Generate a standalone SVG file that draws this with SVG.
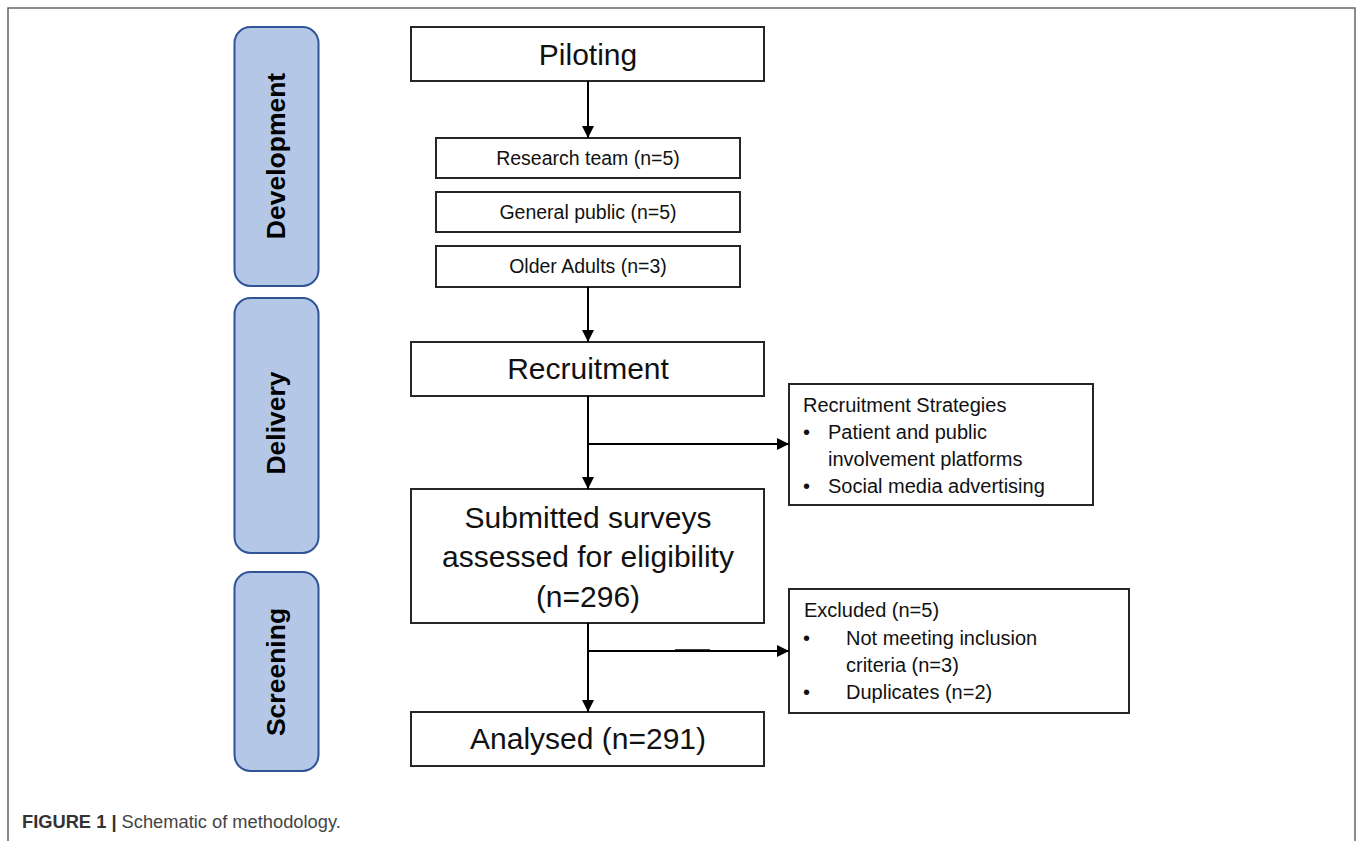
<svg xmlns="http://www.w3.org/2000/svg" width="1358" height="841" viewBox="0 0 1358 841">
<defs>
<style>
.box{fill:#fff;stroke:#262626;stroke-width:2}
.phase{fill:#B4C7E7;stroke:#2F5597;stroke-width:2}
.big{font-family:"Liberation Sans",Arial,sans-serif;font-size:30px;fill:#111;text-anchor:middle}
.mid{font-family:"Liberation Sans",Arial,sans-serif;font-size:19.5px;fill:#111;text-anchor:middle}
.sm{font-family:"Liberation Sans",Arial,sans-serif;font-size:20px;fill:#111}
.ph{font-family:"Liberation Sans",Arial,sans-serif;font-size:26.5px;font-weight:bold;fill:#000;text-anchor:middle}
.ln{stroke:#000;stroke-width:2;fill:none}
.cap{font-family:"Liberation Sans",Arial,sans-serif;font-size:18.3px}
</style>
<marker id="ah" viewBox="0 0 10 10" refX="10" refY="5" markerWidth="12" markerHeight="12" markerUnits="userSpaceOnUse" orient="auto">
<path d="M0,0 L10,5 L0,10 z" fill="#000"/>
</marker>
</defs>
<rect x="0" y="0" width="1358" height="841" fill="#fff"/>
<path d="M8,841 V8 H1355 V841" fill="none" stroke="#666" stroke-width="1.5"/>

<g id="phase-development">
<rect class="phase" x="234.5" y="27" width="84" height="259" rx="16"/>
<text class="ph" transform="translate(285,156) rotate(-90)">Development</text>
</g>
<g id="phase-delivery">
<rect class="phase" x="234.5" y="298" width="84" height="255" rx="16"/>
<text class="ph" transform="translate(285,423) rotate(-90)">Delivery</text>
</g>
<g id="phase-screening">
<rect class="phase" x="234.5" y="572" width="84" height="199" rx="16"/>
<text class="ph" transform="translate(285,672) rotate(-90)">Screening</text>
</g>

<g id="node-piloting">
<rect class="box" x="411" y="27" width="353" height="54"/>
<text class="big" x="588" y="65">Piloting</text>
</g>
<g id="node-research-team">
<rect class="box" x="436" y="138" width="304" height="40"/>
<text class="mid" x="588" y="165">Research team (n=5)</text>
</g>
<g id="node-general-public">
<rect class="box" x="436" y="192" width="304" height="40"/>
<text class="mid" x="588" y="219">General public (n=5)</text>
</g>
<g id="node-older-adults">
<rect class="box" x="436" y="246" width="304" height="41"/>
<text class="mid" x="588" y="273">Older Adults (n=3)</text>
</g>
<g id="node-recruitment">
<rect class="box" x="411" y="342" width="353" height="54"/>
<text class="big" x="588" y="379">Recruitment</text>
</g>
<g id="node-strategies">
<rect class="box" x="789" y="384" width="304" height="121"/>
<text class="sm" x="803" y="412">Recruitment Strategies</text>
<text class="sm" x="803" y="439">•</text>
<text class="sm" x="828" y="439">Patient and public</text>
<text class="sm" x="828" y="466">involvement platforms</text>
<text class="sm" x="803" y="493">•</text>
<text class="sm" x="828" y="493">Social media advertising</text>
</g>
<g id="node-submitted">
<rect class="box" x="411" y="489" width="353" height="134"/>
<text class="big" x="588" y="528">Submitted surveys</text>
<text class="big" x="588" y="567">assessed for eligibility</text>
<text class="big" x="588" y="607">(n=296)</text>
</g>
<g id="node-excluded">
<rect class="box" x="789" y="589" width="340" height="124"/>
<text class="sm" x="804" y="617">Excluded (n=5)</text>
<text class="sm" x="803" y="645">•</text>
<text class="sm" x="846" y="645">Not meeting inclusion</text>
<text class="sm" x="846" y="672">criteria (n=3)</text>
<text class="sm" x="803" y="699">•</text>
<text class="sm" x="846" y="699">Duplicates (n=2)</text>
</g>
<g id="node-analysed">
<rect class="box" x="411" y="712" width="353" height="54"/>
<text class="big" x="588" y="749">Analysed (n=291)</text>
</g>

<g id="connectors">
<line class="ln" x1="588" y1="81" x2="588" y2="138" marker-end="url(#ah)"/>
<line class="ln" x1="588" y1="287" x2="588" y2="342" marker-end="url(#ah)"/>
<line class="ln" x1="588" y1="396" x2="588" y2="489" marker-end="url(#ah)"/>
<line class="ln" x1="588" y1="444" x2="789" y2="444" marker-end="url(#ah)"/>
<line class="ln" x1="588" y1="623" x2="588" y2="712" marker-end="url(#ah)"/>
<line class="ln" x1="588" y1="651" x2="789" y2="651" marker-end="url(#ah)"/>
<line x1="675" y1="650" x2="710" y2="650" stroke="#000" stroke-width="1.5"/>
</g>

<text class="cap" x="22" y="828"><tspan font-weight="bold" fill="#333">FIGURE 1 |</tspan><tspan fill="#444"> Schematic of methodology.</tspan></text>
</svg>
